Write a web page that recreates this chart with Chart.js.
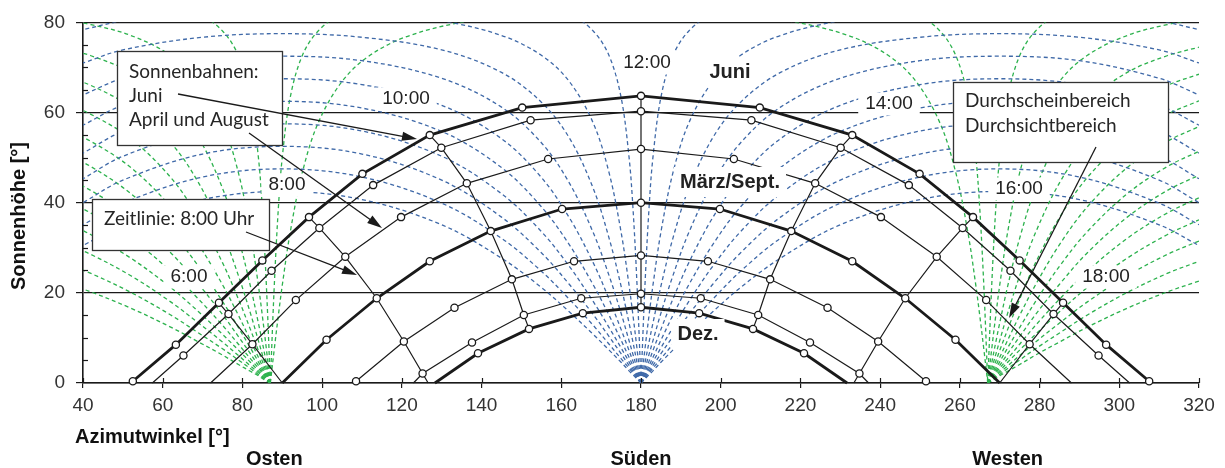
<!DOCTYPE html>
<html>
<head>
<meta charset="utf-8">
<script src="https://cdn.jsdelivr.net/npm/chart.js@4.4.1/dist/chart.umd.min.js"></script>
<style>
  body { margin: 0; background: #fff; }
  #wrap { position: relative; width: 1225px; height: 468px; }
</style>
</head>
<body>
<div id="wrap"><canvas id="chart" width="1225" height="468"></canvas></div>
<script>
// Sonnenbahnen: hourly sun positions (azimuth °, altitude °)
const juneAz  = [52.5, 63.3, 74.1, 85.0, 96.7, 110.1, 127.0, 150.2, 180, 209.8, 233.0, 249.9, 263.3, 275.0, 285.9, 296.7, 307.5];
const juneAlt = [0.4, 8.5, 17.8, 27.2, 36.8, 46.4, 55.0, 61.1, 63.7, 61.1, 55.0, 46.4, 36.8, 27.2, 17.8, 8.5, 0.4];
const mayAz   = [57.4, 65.2, 76.5, 87.3, 99.3, 112.8, 129.9, 152.3, 180, 207.7, 230.1, 247.2, 260.7, 272.7, 283.5, 294.8, 302.6];
const mayAlt  = [0, 6.1, 15.3, 24.9, 34.4, 43.9, 52.2, 58.3, 60.3, 58.3, 52.2, 43.9, 34.4, 24.9, 15.3, 6.1, 0];
const aprAz   = [72.0, 82.5, 93.4, 105.8, 119.8, 136.3, 156.7, 180, 203.3, 223.7, 240.2, 254.2, 266.6, 277.5, 288.0];
const aprAlt  = [0, 8.6, 18.4, 28.0, 36.8, 44.3, 49.7, 51.9, 49.7, 44.3, 36.8, 28.0, 18.4, 8.6, 0];
const marAz   = [90, 101.1, 113.7, 127.0, 142.3, 160.2, 180, 199.8, 217.7, 233.0, 246.3, 258.9, 270];
const marAlt  = [0, 9.6, 18.8, 27.0, 33.7, 38.6, 40.0, 38.6, 33.7, 27.0, 18.8, 9.6, 0];
const febAz   = [108.5, 120.5, 133.2, 147.6, 163.2, 180, 196.8, 212.4, 226.8, 239.5, 251.5];
const febAlt  = [0.4, 9.2, 16.7, 23.0, 27.0, 28.3, 27.0, 23.0, 16.7, 9.2, 0.4];
const janAz   = [122.9, 125.2, 137.6, 150.6, 165.0, 180, 195.0, 209.4, 222.4, 234.8, 237.1];
const janAlt  = [0, 2.1, 9.0, 15.1, 18.8, 19.8, 18.8, 15.1, 9.0, 2.1, 0];
const decAz   = [128.3, 139.1, 151.9, 165.4, 180, 194.6, 208.1, 220.9, 231.7];
const decAlt  = [0, 6.6, 12.0, 15.5, 16.8, 15.5, 12.0, 6.6, 0];

// Zeitlinien every two hours
const t6Az  = [74.1, 76.5, 82.5, 90];            const t6Alt  = [17.8, 15.3, 8.6, 0];
const t8Az  = [96.7, 99.3, 105.8, 113.7, 120.5, 125.2, 126.6];
const t8Alt = [36.8, 34.4, 28.0, 18.8, 9.2, 2.1, 0];
const t10Az  = [127.0, 129.9, 136.3, 142.3, 147.6, 150.6, 151.9];
const t10Alt = [55.0, 52.2, 44.3, 33.7, 23.0, 15.1, 12.0];
const t12Az  = [180, 180];                       const t12Alt = [63.7, 16.8];
const t14Az  = [233.0, 230.1, 223.7, 217.7, 212.4, 209.4, 208.1];
const t14Alt = [55.0, 52.2, 44.3, 33.7, 23.0, 15.1, 12.0];
const t16Az  = [263.3, 260.7, 254.2, 246.3, 239.5, 234.8, 233.4];
const t16Alt = [36.8, 34.4, 28.0, 18.8, 9.2, 2.1, 0];
const t18Az  = [285.9, 283.5, 277.5, 270];       const t18Alt = [17.8, 15.3, 8.6, 0];

// blue dashed construction curves fanning out of south (180°)
const blueAzLeft  = [180, 179, 178, 177, 175, 172, 168, 162, 155, 145, 130, 110, 90, 70, 50, 40];
const blueAzRight = [180, 181, 182, 183, 185, 188, 192, 198, 205, 215, 230, 250, 270, 290, 310, 320];
const blueAlts = [
  [0, 21.8, 38.6, 50.1, 63.4, 72.6, 78.1, 82.0, 84.1, 85.6, 86.7, 87.3, 87.5, 87.3, 86.7, 86.1],
  [0, 7.6, 14.9, 21.7, 33.5, 46.6, 57.7, 66.9, 72.7, 77.1, 80.3, 82.0, 82.5, 82.0, 80.3, 78.4],
  [0, 4.5, 9.0, 13.3, 21.5, 32.1, 43.2, 54.4, 62.3, 68.9, 73.9, 76.7, 77.5, 76.7, 73.9, 71.0],
  [0, 3.2, 6.3, 9.4, 15.5, 23.8, 33.4, 44.4, 53.3, 61.2, 67.6, 71.5, 72.5, 71.5, 67.6, 63.9],
  [0, 2.4, 4.8, 7.2, 11.9, 18.6, 26.7, 36.7, 45.6, 54.2, 61.6, 66.2, 67.5, 66.2, 61.6, 57.2],
  [0, 1.9, 3.8, 5.7, 9.5, 15.0, 21.8, 30.7, 39.1, 47.8, 55.8, 61.0, 62.5, 61.0, 55.8, 51.0],
  [0, 1.6, 3.1, 4.7, 7.8, 12.3, 18.1, 25.9, 33.6, 42.0, 50.3, 55.9, 57.5, 55.9, 50.3, 45.3],
  [0, 1.3, 2.6, 3.9, 6.5, 10.3, 15.2, 21.9, 28.9, 36.8, 45.0, 50.8, 52.5, 50.8, 45.0, 40.0],
  [0, 1.1, 2.2, 3.3, 5.4, 8.6, 12.8, 18.6, 24.8, 32.1, 39.9, 45.7, 47.5, 45.7, 39.9, 35.1],
  [0, 0.9, 1.8, 2.7, 4.6, 7.3, 10.8, 15.8, 21.2, 27.7, 35.1, 40.7, 42.5, 40.7, 35.1, 30.5]
];

// green dashed curves fanning out of the east (87°) and west (267°) points
const greenAzLeft  = [87, 86, 85, 84, 82, 79, 75, 69, 62, 52, 42, 34];
const greenAzRight = [267, 268, 269, 270, 272, 275, 279, 285, 292, 302, 312, 320];
const greenAlts = [
  [0, 21.8, 38.6, 50.1, 63.4, 72.6, 78.1, 82.0, 84.1, 85.6, 86.5, 86.9],
  [0, 7.6, 14.9, 21.7, 33.5, 46.6, 57.7, 66.9, 72.7, 77.1, 79.5, 80.6],
  [0, 4.5, 9.0, 13.3, 21.5, 32.1, 43.2, 54.4, 62.3, 68.9, 72.6, 74.5],
  [0, 3.2, 6.3, 9.4, 15.5, 23.8, 33.4, 44.4, 53.3, 61.2, 66.0, 68.5],
  [0, 2.4, 4.8, 7.2, 11.9, 18.6, 26.7, 36.7, 45.6, 54.2, 59.6, 62.6],
  [0, 1.9, 3.8, 5.7, 9.5, 15.0, 21.8, 30.7, 39.1, 47.8, 53.6, 56.9],
  [0, 1.6, 3.1, 4.7, 7.8, 12.3, 18.1, 25.9, 33.6, 42.0, 48.0, 51.4],
  [0, 1.3, 2.6, 3.9, 6.5, 10.3, 15.2, 21.9, 28.9, 36.8, 42.7, 46.1],
  [0, 1.1, 2.2, 3.3, 5.4, 8.6, 12.8, 18.6, 24.8, 32.1, 37.7, 41.1],
  [0, 0.9, 1.8, 2.7, 4.6, 7.3, 10.8, 15.8, 21.2, 27.7, 32.9, 36.2],
  [0, 0.8, 1.5, 2.3, 3.8, 6.1, 9.1, 13.3, 18.0, 23.8, 28.5, 31.5],
  [0, 0.6, 1.3, 1.9, 3.2, 5.1, 7.6, 11.1, 15.1, 20.1, 24.3, 27.0],
  [0, 0.5, 1.0, 1.6, 2.6, 4.1, 6.2, 9.1, 12.4, 16.6, 20.2, 22.6]
];
// the two green curves that run from the east point over the top to the west point
const greenArchAz = [87, 88, 89, 90, 92, 95, 99, 105, 112, 122, 137, 157, 177, 197, 217, 232, 242, 249, 255, 259, 262, 264, 265, 266, 267];
const greenArchAlts = [
  [0, 21.8, 38.6, 50.1, 63.4, 72.6, 78.1, 82.0, 84.1, 85.6, 86.7, 87.3, 87.5, 87.3, 86.7, 85.6, 84.1, 82.0, 78.1, 72.6, 63.4, 50.1, 38.6, 21.8, 0],
  [0, 7.6, 14.9, 21.7, 33.5, 46.6, 57.7, 66.9, 72.7, 77.1, 80.3, 82.0, 82.5, 82.0, 80.3, 77.1, 72.7, 66.9, 57.7, 46.6, 33.5, 21.7, 14.9, 7.6, 0]
];

const xTicks = [40, 60, 80, 100, 120, 140, 160, 180, 200, 220, 240, 260, 280, 300, 320];
const yTicks = [0, 20, 40, 60, 80];

const INK = '#1a1a1a';
const BLUE = '#3f69a8';
const GREEN = '#2db24e';
const SANS = 'Liberation Sans';
const BOX_FONT = 'Lato';

const pts = (az, alt) => az.map((x, i) => ({ x: x, y: alt[i] }));

const dashed = (az, alt, color) => ({
    data: pts(az, alt),
    showLine: true,
    borderColor: color,
    borderWidth: 1.3,
    borderDash: [4, 3],
    pointRadius: 0,
    tension: 0.35,
    clip: 0,
    order: 3
});

const sunPath = (az, alt, width) => ({
    data: pts(az, alt),
    showLine: true,
    borderColor: INK,
    borderWidth: width,
    tension: 0,
    pointRadius: (c) => (c.raw && c.raw.y === 0 ? 0 : 3.6),
    pointBackgroundColor: '#fff',
    pointBorderColor: INK,
    pointBorderWidth: 1.3,
    clip: false,
    order: 0
});

const timeLine = (az, alt) => ({
    data: pts(az, alt),
    showLine: true,
    borderColor: INK,
    borderWidth: 1.2,
    pointRadius: 0,
    tension: 0,
    clip: false,
    order: 1
});

const datasets = [
    sunPath(juneAz, juneAlt, 2.8),
    sunPath(mayAz, mayAlt, 1.2),
    sunPath(aprAz, aprAlt, 1.2),
    sunPath(marAz, marAlt, 2.8),
    sunPath(febAz, febAlt, 1.2),
    sunPath(janAz, janAlt, 1.2),
    sunPath(decAz, decAlt, 2.8),
    timeLine(t6Az, t6Alt),
    timeLine(t8Az, t8Alt),
    timeLine(t10Az, t10Alt),
    timeLine(t12Az, t12Alt),
    timeLine(t14Az, t14Alt),
    timeLine(t16Az, t16Alt),
    timeLine(t18Az, t18Alt)
];
blueAlts.forEach(a => {
    datasets.push(dashed(blueAzLeft, a, BLUE));
    datasets.push(dashed(blueAzRight, a, BLUE));
});
greenAlts.forEach(a => {
    datasets.push(dashed(greenAzLeft, a, GREEN));
    datasets.push(dashed(greenAzRight, a, GREEN));
});
greenArchAlts.forEach(a => datasets.push(dashed(greenArchAz, a, GREEN)));

// annotation layout (canvas pixels)
const timeLabels = [
    ['12:00', 647, 63], ['10:00', 406, 99], ['14:00', 889, 104], ['8:00', 287, 185],
    ['16:00', 1019, 189], ['6:00', 189, 277], ['18:00', 1106, 277]
];
const pathLabels = [['Juni', 730, 72], ['März/Sept.', 730, 182], ['Dez.', 698, 334]];
const boxes = [
    { x: 117, y: 51, w: 165, h: 94, lines: [['Sonnenbahnen:', 72], ['Juni', 96], ['April und August', 120]] },
    { x: 92, y: 199, w: 177, h: 51, lines: [['Zeitlinie: 8:00 Uhr', 219]] },
    { x: 953, y: 82, w: 215, h: 80, lines: [['Durchscheinbereich', 101], ['Durchsichtbereich', 126]] }
];
const arrows = [[178, 94, 417, 139], [249, 133, 382, 228], [246, 232, 357, 275], [1096, 147, 1009, 318]];

function drawArrow(ctx, x1, y1, x2, y2) {
    const ang = Math.atan2(y2 - y1, x2 - x1);
    const len = 15, half = 4.5;
    ctx.strokeStyle = INK;
    ctx.lineWidth = 1.3;
    ctx.beginPath();
    ctx.moveTo(x1, y1);
    ctx.lineTo(x2 - Math.cos(ang) * len * 0.8, y2 - Math.sin(ang) * len * 0.8);
    ctx.stroke();
    ctx.fillStyle = INK;
    ctx.beginPath();
    ctx.moveTo(x2, y2);
    ctx.lineTo(x2 - Math.cos(ang) * len - Math.sin(ang) * half, y2 - Math.sin(ang) * len + Math.cos(ang) * half);
    ctx.lineTo(x2 - Math.cos(ang) * len + Math.sin(ang) * half, y2 - Math.sin(ang) * len - Math.cos(ang) * half);
    ctx.closePath();
    ctx.fill();
}

function labelWithBg(ctx, text, cx, cy, size, weight, padX, padY) {
    ctx.font = weight + ' ' + size + 'px "' + SANS + '"';
    const w = ctx.measureText(text).width;
    ctx.fillStyle = '#fff';
    ctx.fillRect(cx - w / 2 - padX, cy - size / 2 - padY, w + padX * 2, size + padY * 2);
    ctx.fillStyle = '#222';
    ctx.textAlign = 'center';
    ctx.textBaseline = 'middle';
    ctx.fillText(text, cx, cy);
}

const overlay = {
    id: 'overlay',
    beforeDraw(chart) {
        const ctx = chart.ctx;
        ctx.save();
        ctx.fillStyle = '#fff';
        ctx.fillRect(0, 0, chart.width, chart.height);
        ctx.restore();
    },
    afterDraw(chart) {
        const { ctx, chartArea: a, scales: { x, y } } = chart;
        ctx.save();

        // inner tick marks: minor ticks on the y axis, inner halves of the x ticks
        ctx.strokeStyle = INK;
        ctx.lineWidth = 1.2;
        for (let v = 5; v < 80; v += 5) {
            if (v % 20 === 0) continue;
            const py = Math.round(y.getPixelForValue(v)) + 0.5;
            ctx.beginPath(); ctx.moveTo(a.left, py); ctx.lineTo(a.left + 5, py); ctx.stroke();
        }
        xTicks.forEach(v => {
            const px = Math.round(x.getPixelForValue(v)) + 0.5;
            ctx.beginPath(); ctx.moveTo(px, a.bottom); ctx.lineTo(px, a.bottom - 5); ctx.stroke();
        });

        timeLabels.forEach(([t, cx, cy]) => labelWithBg(ctx, t, cx, cy, 19, 'normal', 7, 2));
        pathLabels.forEach(([t, cx, cy]) => labelWithBg(ctx, t, cx, cy, 20, 'bold', 6, 5));

        boxes.forEach(b => {
            ctx.fillStyle = '#fff';
            ctx.fillRect(b.x, b.y, b.w, b.h);
            ctx.strokeStyle = '#333';
            ctx.lineWidth = 1.3;
            ctx.strokeRect(b.x + 0.5, b.y + 0.5, b.w, b.h);
            ctx.fillStyle = '#262626';
            ctx.font = '19px "' + BOX_FONT + '"';
            ctx.textAlign = 'left';
            ctx.textBaseline = 'middle';
            b.lines.forEach(([t, ty]) => ctx.fillText(t, b.x + 12, ty));
        });

        arrows.forEach(([x1, y1, x2, y2]) => drawArrow(ctx, x1, y1, x2, y2));

        // axis titles and compass words
        ctx.fillStyle = '#111';
        ctx.font = 'bold 20px "' + SANS + '"';
        ctx.textBaseline = 'middle';
        ctx.textAlign = 'left';
        ctx.fillText('Azimutwinkel [°]', 75, 437);
        ctx.textAlign = 'center';
        ctx.fillText('Osten', x.getPixelForValue(88), 459);
        ctx.fillText('Süden', x.getPixelForValue(180), 459);
        ctx.fillText('Westen', x.getPixelForValue(272), 459);
        ctx.translate(19, 216);
        ctx.rotate(-Math.PI / 2);
        ctx.fillText('Sonnenhöhe [°]', 0, 0);
        ctx.restore();
    }
};

new Chart(document.getElementById('chart'), {
    type: 'scatter',
    data: { datasets: datasets },
    options: {
        responsive: false,
        animation: false,
        devicePixelRatio: 1,
        layout: { padding: { top: 21, right: 26, left: 0, bottom: 0 } },
        plugins: { legend: { display: false }, tooltip: { enabled: false } },
        elements: { line: { capBezierPoints: false } },
        scales: {
            x: {
                type: 'linear', min: 40, max: 320,
                afterFit: (s) => { s.height = 85; },
                afterBuildTicks: (s) => { s.ticks = xTicks.map(v => ({ value: v })); },
                ticks: { font: { family: SANS, size: 19 }, color: '#333', padding: 6 },
                grid: { drawOnChartArea: false, tickLength: 5, color: INK, lineWidth: 1.2 },
                border: { color: INK, width: 1.6 }
            },
            y: {
                type: 'linear', min: 0, max: 80,
                afterFit: (s) => { s.width = 83; },
                afterBuildTicks: (s) => { s.ticks = yTicks.map(v => ({ value: v })); },
                ticks: { font: { family: SANS, size: 19 }, color: '#333', padding: 11 },
                grid: { color: INK, lineWidth: 1.2, tickLength: 7 },
                border: { color: INK, width: 1.6 }
            }
        }
    },
    plugins: [overlay]
});
</script>
</body>
</html>
